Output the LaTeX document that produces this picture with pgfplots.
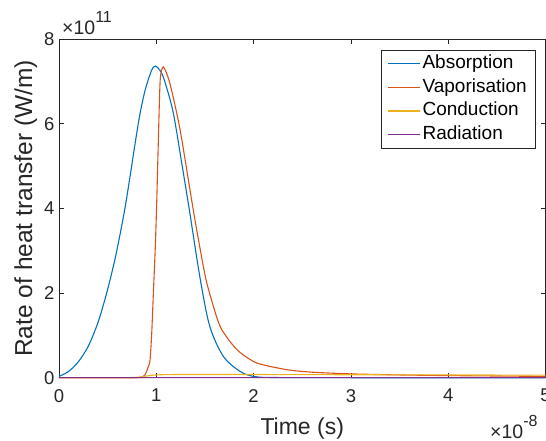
\documentclass[border=0pt]{standalone}
\usepackage{pgfplots}
\pgfplotsset{compat=1.18}
\usepackage{fontspec}
\setmainfont{Liberation Sans}
\definecolor{mblue}{rgb}{0,0.447,0.741}
\definecolor{morange}{rgb}{0.850,0.325,0.098}
\definecolor{myellow}{rgb}{0.929,0.694,0.125}
\definecolor{mpurple}{rgb}{0.494,0.184,0.556}
\definecolor{axisgray}{rgb}{0.15,0.15,0.15}
\begin{document}
\begin{tikzpicture}
\begin{axis}[
  scale only axis, width=486.5bp, height=338.7bp,
  xmin=0, xmax=5, ymin=0, ymax=8,
  xtick={0,1,2,3,4,5}, ytick={0,2,4,6,8},
  tick align=inside, major tick length=5bp,
  axis line style={draw=axisgray, line width=0.6bp},
  every tick/.style={axisgray, line width=0.6bp},
  /pgf/number format/assume math mode=true,
  tick label style={font=\fontsize{18.5bp}{20bp}\selectfont, text=axisgray},
  xticklabel style={yshift=-8bp},
  yticklabel style={xshift=-1bp},
  xlabel={Time (s)},
  ylabel={Rate of heat transfer (W/m)},
  xlabel style={font=\fontsize{23bp}{26bp}\selectfont, text=axisgray,
    at={(axis description cs:0.5,-0.1684)}, anchor=base},
  ylabel style={font=\fontsize{24.5bp}{27bp}\selectfont, text=axisgray,
    at={(axis description cs:-0.0555,0.5)}, anchor=base},
  clip=false,
  legend cell align=left,
  legend image code/.code={\draw[#1, line width=1.1bp] (0bp,0bp) -- (32bp,0bp);},
  legend style={at={(0.9794,0.9675)}, anchor=north east, draw=axisgray,
    font=\fontsize{19bp}{21bp}\selectfont,
    inner xsep=6bp, inner ysep=1.5bp, row sep=0bp,
    nodes={inner xsep=2.5bp, inner ysep=2.1bp, text height=14.5bp, text depth=5bp}},
  every axis plot/.append style={line width=1.1bp},
]
\coordinate (SW) at (rel axis cs:0,0);
\coordinate (NE) at (rel axis cs:1,1);
\coordinate (SE) at (rel axis cs:1,0);
\coordinate (NW) at (rel axis cs:0,1);

\addplot[mblue, smooth, tension=0.5] coordinates {
(0,0.03) (0.1,0.15) (0.2,0.38) (0.3,0.74) (0.4,1.30) (0.49,2.00) (0.58,2.85)
(0.67,3.90) (0.73,4.75) (0.78,5.50) (0.83,6.20) (0.885,6.79) (0.95,7.25)
(0.99,7.36) (1.05,7.22) (1.10,6.90) (1.176,6.24) (1.262,5.06) (1.34,3.96)
(1.45,2.35) (1.55,1.21) (1.69,0.50) (1.86,0.15) (2.0,0.03) (2.2,0.005)
(3,0) (5,0)};
\addlegendentry{Absorption}

\addplot[morange, smooth, tension=0.4] coordinates {
(0,0) (0.8,0) (0.86,0.02) (0.885,0.07) (0.92,0.27) (0.936,0.42) (0.953,1.05)
(0.97,2.0) (0.99,3.1) (1.005,4.2) (1.02,5.5) (1.04,7.03) (1.073,7.34)
(1.14,6.95) (1.245,5.85) (1.38,3.96) (1.45,3.05) (1.52,2.23) (1.656,1.21)
(1.83,0.66) (2.03,0.35) (2.34,0.19) (2.6,0.13) (3.0,0.09) (3.5,0.065)
(4,0.05) (4.5,0.04) (5,0.03)};
\addlegendentry{Vaporisation}

\addplot[myellow, smooth, tension=0.4] coordinates {
(0,0) (0.7,0.003) (0.8,0.01) (0.9,0.04) (1.0,0.065) (1.2,0.075) (2,0.075)
(3,0.07) (4,0.065) (5,0.06)};
\addlegendentry{Conduction}

\addplot[mpurple] coordinates {(0,0) (1,0.001) (2,0.001) (5,0)};
\addlegendentry{Radiation}
\end{axis}
\node[anchor=base west, text=axisgray, font=\fontsize{19.5bp}{21bp}\selectfont, inner sep=0pt]
  at ([xshift=3bp,yshift=5bp]NW) {×10\raisebox{0.6em}{\fontsize{16bp}{17bp}\selectfont 11}};
\node[anchor=base west, text=axisgray, font=\fontsize{19.5bp}{21bp}\selectfont, inner sep=0pt]
  at ([xshift=-55.5bp,yshift=-60.3bp]SE) {×10\raisebox{0.6em}{\fontsize{16bp}{17bp}\selectfont -8}};
\pgfresetboundingbox
\useasboundingbox ([xshift=-59bp,yshift=-63.3bp]SW) rectangle ([xshift=0.5bp,yshift=39bp]NE);
\end{tikzpicture}
\end{document}
